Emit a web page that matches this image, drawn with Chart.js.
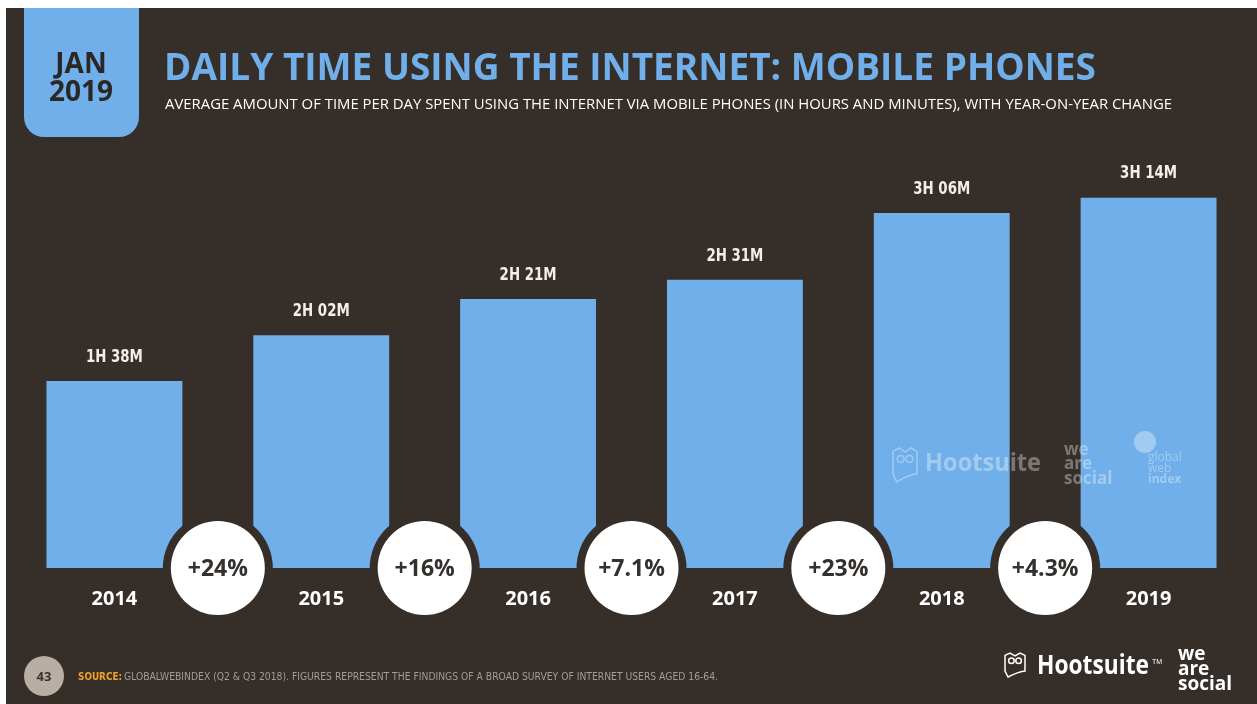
<!DOCTYPE html>
<html lang="en">
<head>
  <meta charset="UTF-8" />
  <title>Daily time using the internet: mobile phones</title>
  <script src="https://cdn.jsdelivr.net/npm/chart.js"></script>
  <style>
    html, body { margin: 0; padding: 0; background: #ffffff; }
    canvas { display: block; }
  </style>
</head>
<body>
  <canvas id="chart" width="1257" height="704"></canvas>

  <script>
    // data (minutes per day)
    const years = ['2014', '2015', '2016', '2017', '2018', '2019'];
    const minutes = [98, 122, 141, 151, 186, 194];
    const valueLabels = ['1H 38M', '2H 02M', '2H 21M', '2H 31M', '3H 06M', '3H 14M'];
    const changes = ['+24%', '+16%', '+7.1%', '+23%', '+4.3%'];

    const BG = '#362e29';
    const BLUE = '#70afe9';

    function owl(ctx, x, y, w, h, color) {
      ctx.save();
      ctx.strokeStyle = color;
      ctx.lineWidth = 1.5;
      ctx.beginPath();
      ctx.moveTo(x, y + h * 0.1);
      ctx.lineTo(x + w * 0.25, y);
      ctx.lineTo(x + w * 0.5, y + h * 0.12);
      ctx.lineTo(x + w * 0.75, y);
      ctx.lineTo(x + w, y + h * 0.1);
      ctx.lineTo(x + w, y + h * 0.75);
      ctx.quadraticCurveTo(x + w * 0.6, y + h * 0.8, x + w * 0.15, y + h);
      ctx.lineTo(x, y + h * 0.75);
      ctx.closePath();
      ctx.stroke();
      ctx.beginPath();
      ctx.arc(x + w * 0.32, y + h * 0.32, w * 0.14, 0, Math.PI * 2);
      ctx.moveTo(x + w * 0.82, y + h * 0.32);
      ctx.arc(x + w * 0.68, y + h * 0.32, w * 0.14, 0, Math.PI * 2);
      ctx.stroke();
      ctx.restore();
    }

    function brandText(ctx, x, y, size, color, width) {
      ctx.fillStyle = color;
      ctx.font = 'bold ' + size + 'px "Open Sans", sans-serif';
      ctx.textAlign = 'left';
      ctx.textBaseline = 'middle';
      ctx.fillText('Hootsuite', x, y, width);
    }

    const slide = {
      id: 'slide',
      beforeDraw(chart) {
        const ctx = chart.ctx;
        ctx.save();
        ctx.fillStyle = '#ffffff';
        ctx.fillRect(0, 0, chart.width, chart.height);
        ctx.fillStyle = BG;
        ctx.fillRect(6, 8, chart.width - 6, chart.height - 8);

        // date tab
        ctx.fillStyle = BLUE;
        ctx.beginPath();
        ctx.roundRect(24, 8, 115, 129, [0, 0, 20, 20]);
        ctx.fill();
        ctx.fillStyle = '#2b2724';
        ctx.font = 'bold 28px "Open Sans", sans-serif';
        ctx.textAlign = 'center';
        ctx.textBaseline = 'middle';
        ctx.fillText('JAN', 81, 65, 64);
        ctx.fillText('2019', 81, 93, 68);

        // title + subtitle
        ctx.textAlign = 'left';
        ctx.fillStyle = BLUE;
        ctx.font = 'bold 38px "Open Sans", sans-serif';
        ctx.fillText('DAILY TIME USING THE INTERNET: MOBILE PHONES', 164, 69, 932);
        ctx.fillStyle = '#ffffff';
        ctx.font = '15px "Open Sans", sans-serif';
        ctx.fillText('AVERAGE AMOUNT OF TIME PER DAY SPENT USING THE INTERNET VIA MOBILE PHONES (IN HOURS AND MINUTES), WITH YEAR-ON-YEAR CHANGE', 165, 105, 1007);

        // footer
        ctx.fillStyle = '#b8aea4';
        ctx.beginPath();
        ctx.arc(44, 676, 20, 0, Math.PI * 2);
        ctx.fill();
        ctx.fillStyle = '#3a332e';
        ctx.font = 'bold 13px "Open Sans", sans-serif';
        ctx.textAlign = 'center';
        ctx.fillText('43', 44, 677);
        ctx.textAlign = 'left';
        ctx.font = 'bold 10.5px "DejaVu Sans Condensed", sans-serif';
        ctx.fillStyle = '#f0a12b';
        ctx.fillText('SOURCE:', 78, 677, 44);
        ctx.fillStyle = '#a59c93';
        ctx.font = '10.5px "DejaVu Sans Condensed", sans-serif';
        ctx.fillText('GLOBALWEBINDEX (Q2 & Q3 2018). FIGURES REPRESENT THE FINDINGS OF A BROAD SURVEY OF INTERNET USERS AGED 16-64.', 124, 677, 594);

        owl(ctx, 1005, 653, 20, 24, '#ffffff');
        brandText(ctx, 1037, 667, 26, '#ffffff', 112);
        ctx.font = '7px sans-serif';
        ctx.fillText('TM', 1152, 662);
        ctx.font = 'bold 19px "Open Sans", sans-serif';
        ctx.fillText('we', 1178, 655, 28);
        ctx.fillText('are', 1178, 670, 38);
        ctx.fillText('social', 1178, 685, 63);
        ctx.restore();
      },
      afterDatasetsDraw(chart) {
        const ctx = chart.ctx;
        const x = chart.scales.x;
        const y = chart.scales.y;
        const base = y.getPixelForValue(0);
        ctx.save();
        ctx.textAlign = 'center';
        ctx.textBaseline = 'middle';

        // value labels and years
        minutes.forEach((m, i) => {
          const px = x.getPixelForValue(i);
          ctx.fillStyle = '#f2efe9';
          ctx.font = 'bold 18px "DejaVu Sans Condensed", sans-serif';
          ctx.fillText(valueLabels[i], px, y.getPixelForValue(m) - 24, 57);
          ctx.fillStyle = '#ffffff';
          ctx.font = 'bold 20px "Open Sans", sans-serif';
          ctx.fillText(years[i], px, base + 31);
        });

        // watermark over the last bars
        const wm = 'rgba(255,255,255,0.35)';
        owl(ctx, 893, 448, 24, 34, wm);
        brandText(ctx, 925, 464, 25, wm, 116);
        ctx.font = 'bold 17px "Open Sans", sans-serif';
        ctx.textAlign = 'left';
        ctx.fillText('we', 1064, 450, 26);
        ctx.fillText('are', 1064, 464, 36);
        ctx.fillText('social', 1064, 479, 62);
        ctx.fillStyle = wm;
        ctx.beginPath();
        ctx.arc(1145, 442, 11, 0, Math.PI * 2);
        ctx.fill();
        ctx.font = '12px "Open Sans", sans-serif';
        ctx.fillText('global', 1148, 458, 40);
        ctx.fillText('web', 1148, 469, 30);
        ctx.font = 'bold 12px "Open Sans", sans-serif';
        ctx.fillText('index', 1148, 480, 42);

        // year-on-year change bubbles
        ctx.textAlign = 'center';
        changes.forEach((c, i) => {
          const cx = (x.getPixelForValue(i) + x.getPixelForValue(i + 1)) / 2;
          ctx.fillStyle = BG;
          ctx.beginPath();
          ctx.arc(cx, base, 55, 0, Math.PI * 2);
          ctx.fill();
          ctx.fillStyle = '#ffffff';
          ctx.beginPath();
          ctx.arc(cx, base, 47, 0, Math.PI * 2);
          ctx.fill();
          ctx.fillStyle = '#33302d';
          ctx.font = 'bold 23px "Open Sans", sans-serif';
          ctx.fillText(c, cx, base + 1);
        });
        ctx.restore();
      }
    };

    new Chart(document.getElementById('chart').getContext('2d'), {
      type: 'bar',
      data: {
        labels: years,
        datasets: [{
          data: minutes,
          backgroundColor: BLUE,
          borderWidth: 0,
          barPercentage: 0.657,
          categoryPercentage: 1
        }]
      },
      options: {
        responsive: false,
        animation: false,
        layout: { padding: { top: 110, bottom: 136, left: 11, right: 5 } },
        scales: {
          x: { display: false },
          y: { display: false, min: 0, max: 240 }
        },
        plugins: {
          legend: { display: false },
          tooltip: { enabled: false }
        }
      },
      plugins: [slide]
    });
  </script>
</body>
</html>
